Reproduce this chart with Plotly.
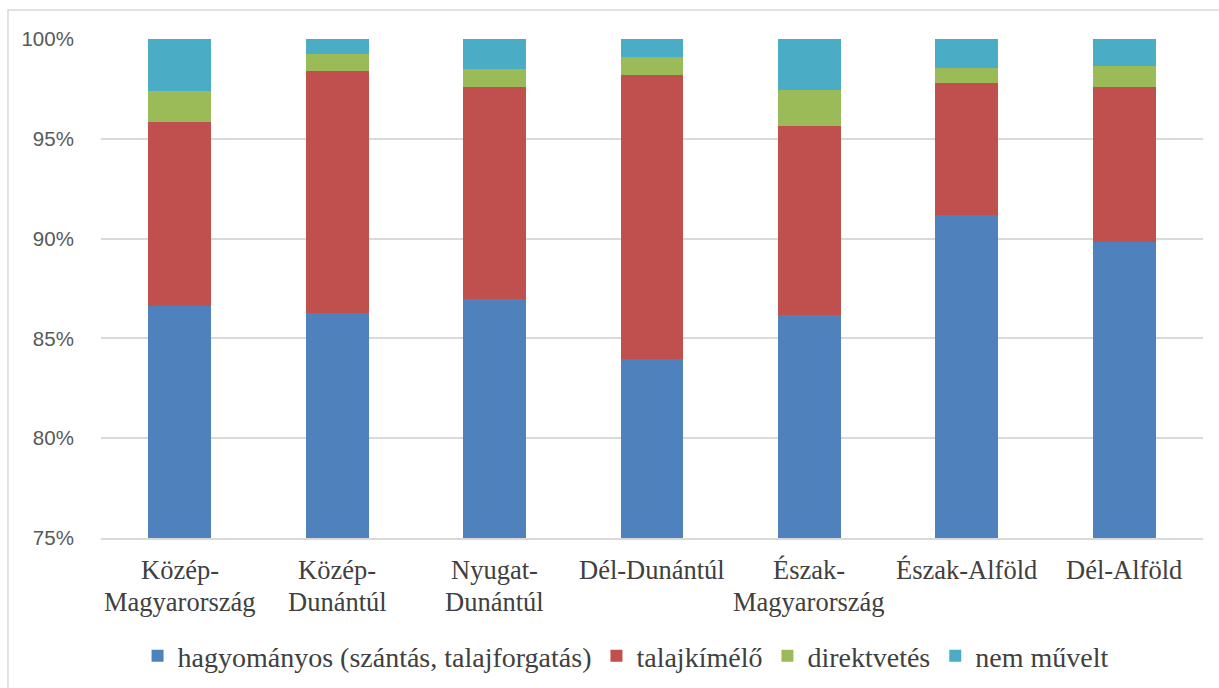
import plotly.graph_objects as go

categories = ["Közép-Magyarország", "Közép-Dunántúl", "Nyugat-Dunántúl", "Dél-Dunántúl",
              "Észak-Magyarország", "Észak-Alföld", "Dél-Alföld"]
label_lines = [["Közép-", "Magyarország"], ["Közép-", "Dunántúl"], ["Nyugat-", "Dunántúl"],
               ["Dél-Dunántúl"], ["Észak-", "Magyarország"], ["Észak-Alföld"], ["Dél-Alföld"]]

hagyomanyos = [86.62, 86.27, 86.97, 83.97, 86.17, 91.18, 89.83]
talajkimelo = [9.22, 12.13, 10.63, 14.23, 9.47, 6.62, 7.77]
direktvetes = [1.55, 0.85, 0.90, 0.90, 1.80, 0.75, 1.05]
nem_muvelt = [2.61, 0.75, 1.50, 0.90, 2.56, 1.45, 1.35]

series = [
    ("hagyományos (szántás, talajforgatás)", hagyomanyos, "#4F81BD"),
    ("talajkímélő", talajkimelo, "#C0504D"),
    ("direktvetés", direktvetes, "#9BBB59"),
    ("nem művelt", nem_muvelt, "#4BACC6"),
]

fig = go.Figure()
for name, vals, col in series:
    fig.add_trace(go.Bar(x=categories, y=[v / 100 for v in vals], name=name,
                         marker=dict(color=col, line=dict(width=0)), width=0.4))

serif = "Liberation Serif"
annotations = []
for cat, lines in zip(categories, label_lines):
    for i, ln in enumerate(lines):
        annotations.append(dict(x=cat, xref="x", y=-0.0641 - i * 0.0641, yref="paper",
                                text=ln, showarrow=False, xanchor="center", yanchor="middle",
                                font=dict(family=serif, size=26.5, color="#404040")))

fig.update_layout(
    barmode="stack",
    width=1219, height=688,
    margin=dict(l=101, r=16, t=39, b=150, autoexpand=False),
    paper_bgcolor="white", plot_bgcolor="white",
    showlegend=True,
    legend=dict(orientation="h", x=0.476, xanchor="center", y=-0.2365, yanchor="middle",
                font=dict(family=serif, size=28, color="#404040"), traceorder="normal",
                itemwidth=30, bgcolor="rgba(0,0,0,0)"),
    annotations=annotations,
    shapes=[dict(type="rect", xref="paper", yref="paper", x0=-0.0844, x1=1.2, y0=-0.5, y1=1.058,
                 line=dict(color="#D9D9D9", width=1.5), fillcolor="rgba(0,0,0,0)", layer="below")],
    bargap=0.6,
)
fig.update_xaxes(showticklabels=False, showline=True, linecolor="#D9D9D9", linewidth=1.5,
                 ticks="", showgrid=False)
fig.update_yaxes(range=[0.75, 1.0], tickvals=[0.75, 0.80, 0.85, 0.90, 0.95, 1.0],
                 ticktext=["75%", "80%", "85%", "90%", "95%", "100%"],
                 showgrid=True, gridcolor="#D9D9D9", gridwidth=1.5, zeroline=False,
                 tickfont=dict(family="Liberation Sans, Arial, sans-serif", size=20.5, color="#595959"),
                 ticks="outside", ticklen=22, tickcolor="rgba(0,0,0,0)")

fig.write_html("out.html")
